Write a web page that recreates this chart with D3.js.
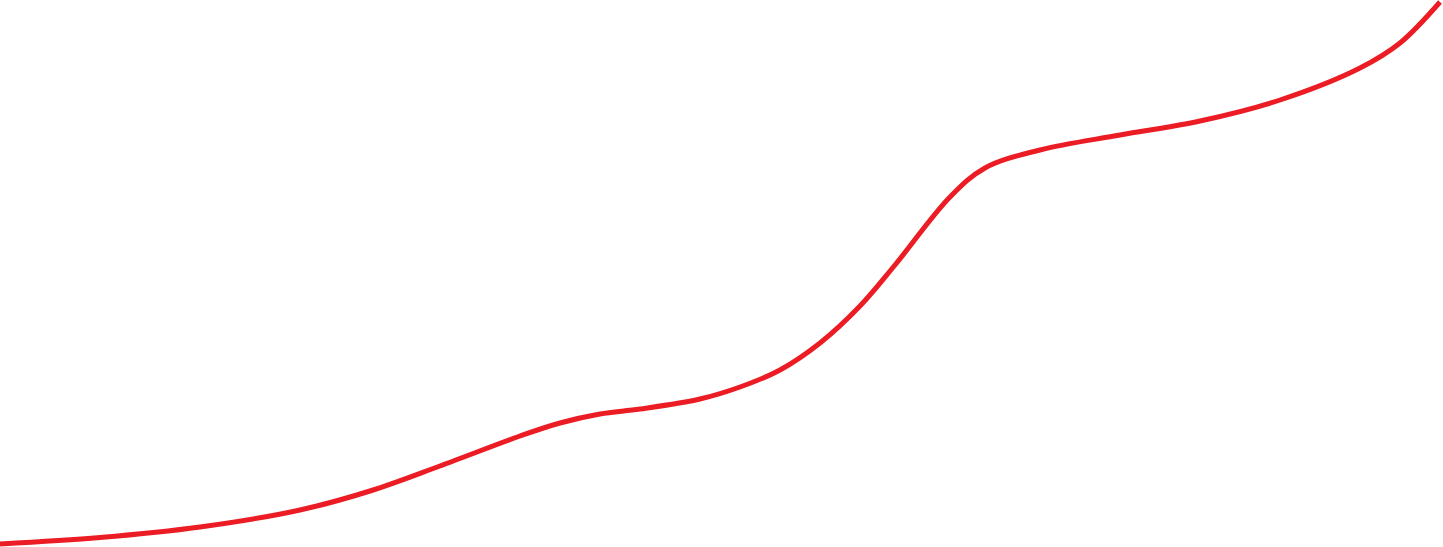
<!DOCTYPE html>
<html><head><meta charset="utf-8">
<script src="https://cdn.jsdelivr.net/npm/d3@7"></script>
<style>html,body{margin:0;padding:0;background:#fff;overflow:hidden}</style>
</head><body>
<svg id="c" width="1443" height="547"></svg>
<script>
const xs = [0, 100, 200, 300, 370, 440, 520, 560, 600, 640, 700, 740, 780, 820, 860, 895, 950, 985, 1040, 1120, 1200, 1280, 1360, 1400, 1440];
const values = [3, 9.5, 20, 37, 56, 81, 111, 124, 133, 138, 148, 160, 177, 204, 241, 282, 350, 379, 397, 412, 426, 447, 479, 504, 545];
const W = 1443, H = 547;
const x = d3.scaleLinear().domain([0, 1443]).range([0, W]);
const y = d3.scaleLinear().domain([0, 547]).range([H, 0]);
const data = xs.map((d, i) => ({x: d, v: values[i]}));
const line = d3.line().x(d => x(d.x)).y(d => y(d.v)).curve(d3.curveCatmullRom.alpha(0.5));
d3.select("#c").append("path").datum(data)
  .attr("d", line).attr("fill", "none")
  .attr("stroke", "#ec1c24").attr("stroke-width", 5);
</script>
</body></html>
